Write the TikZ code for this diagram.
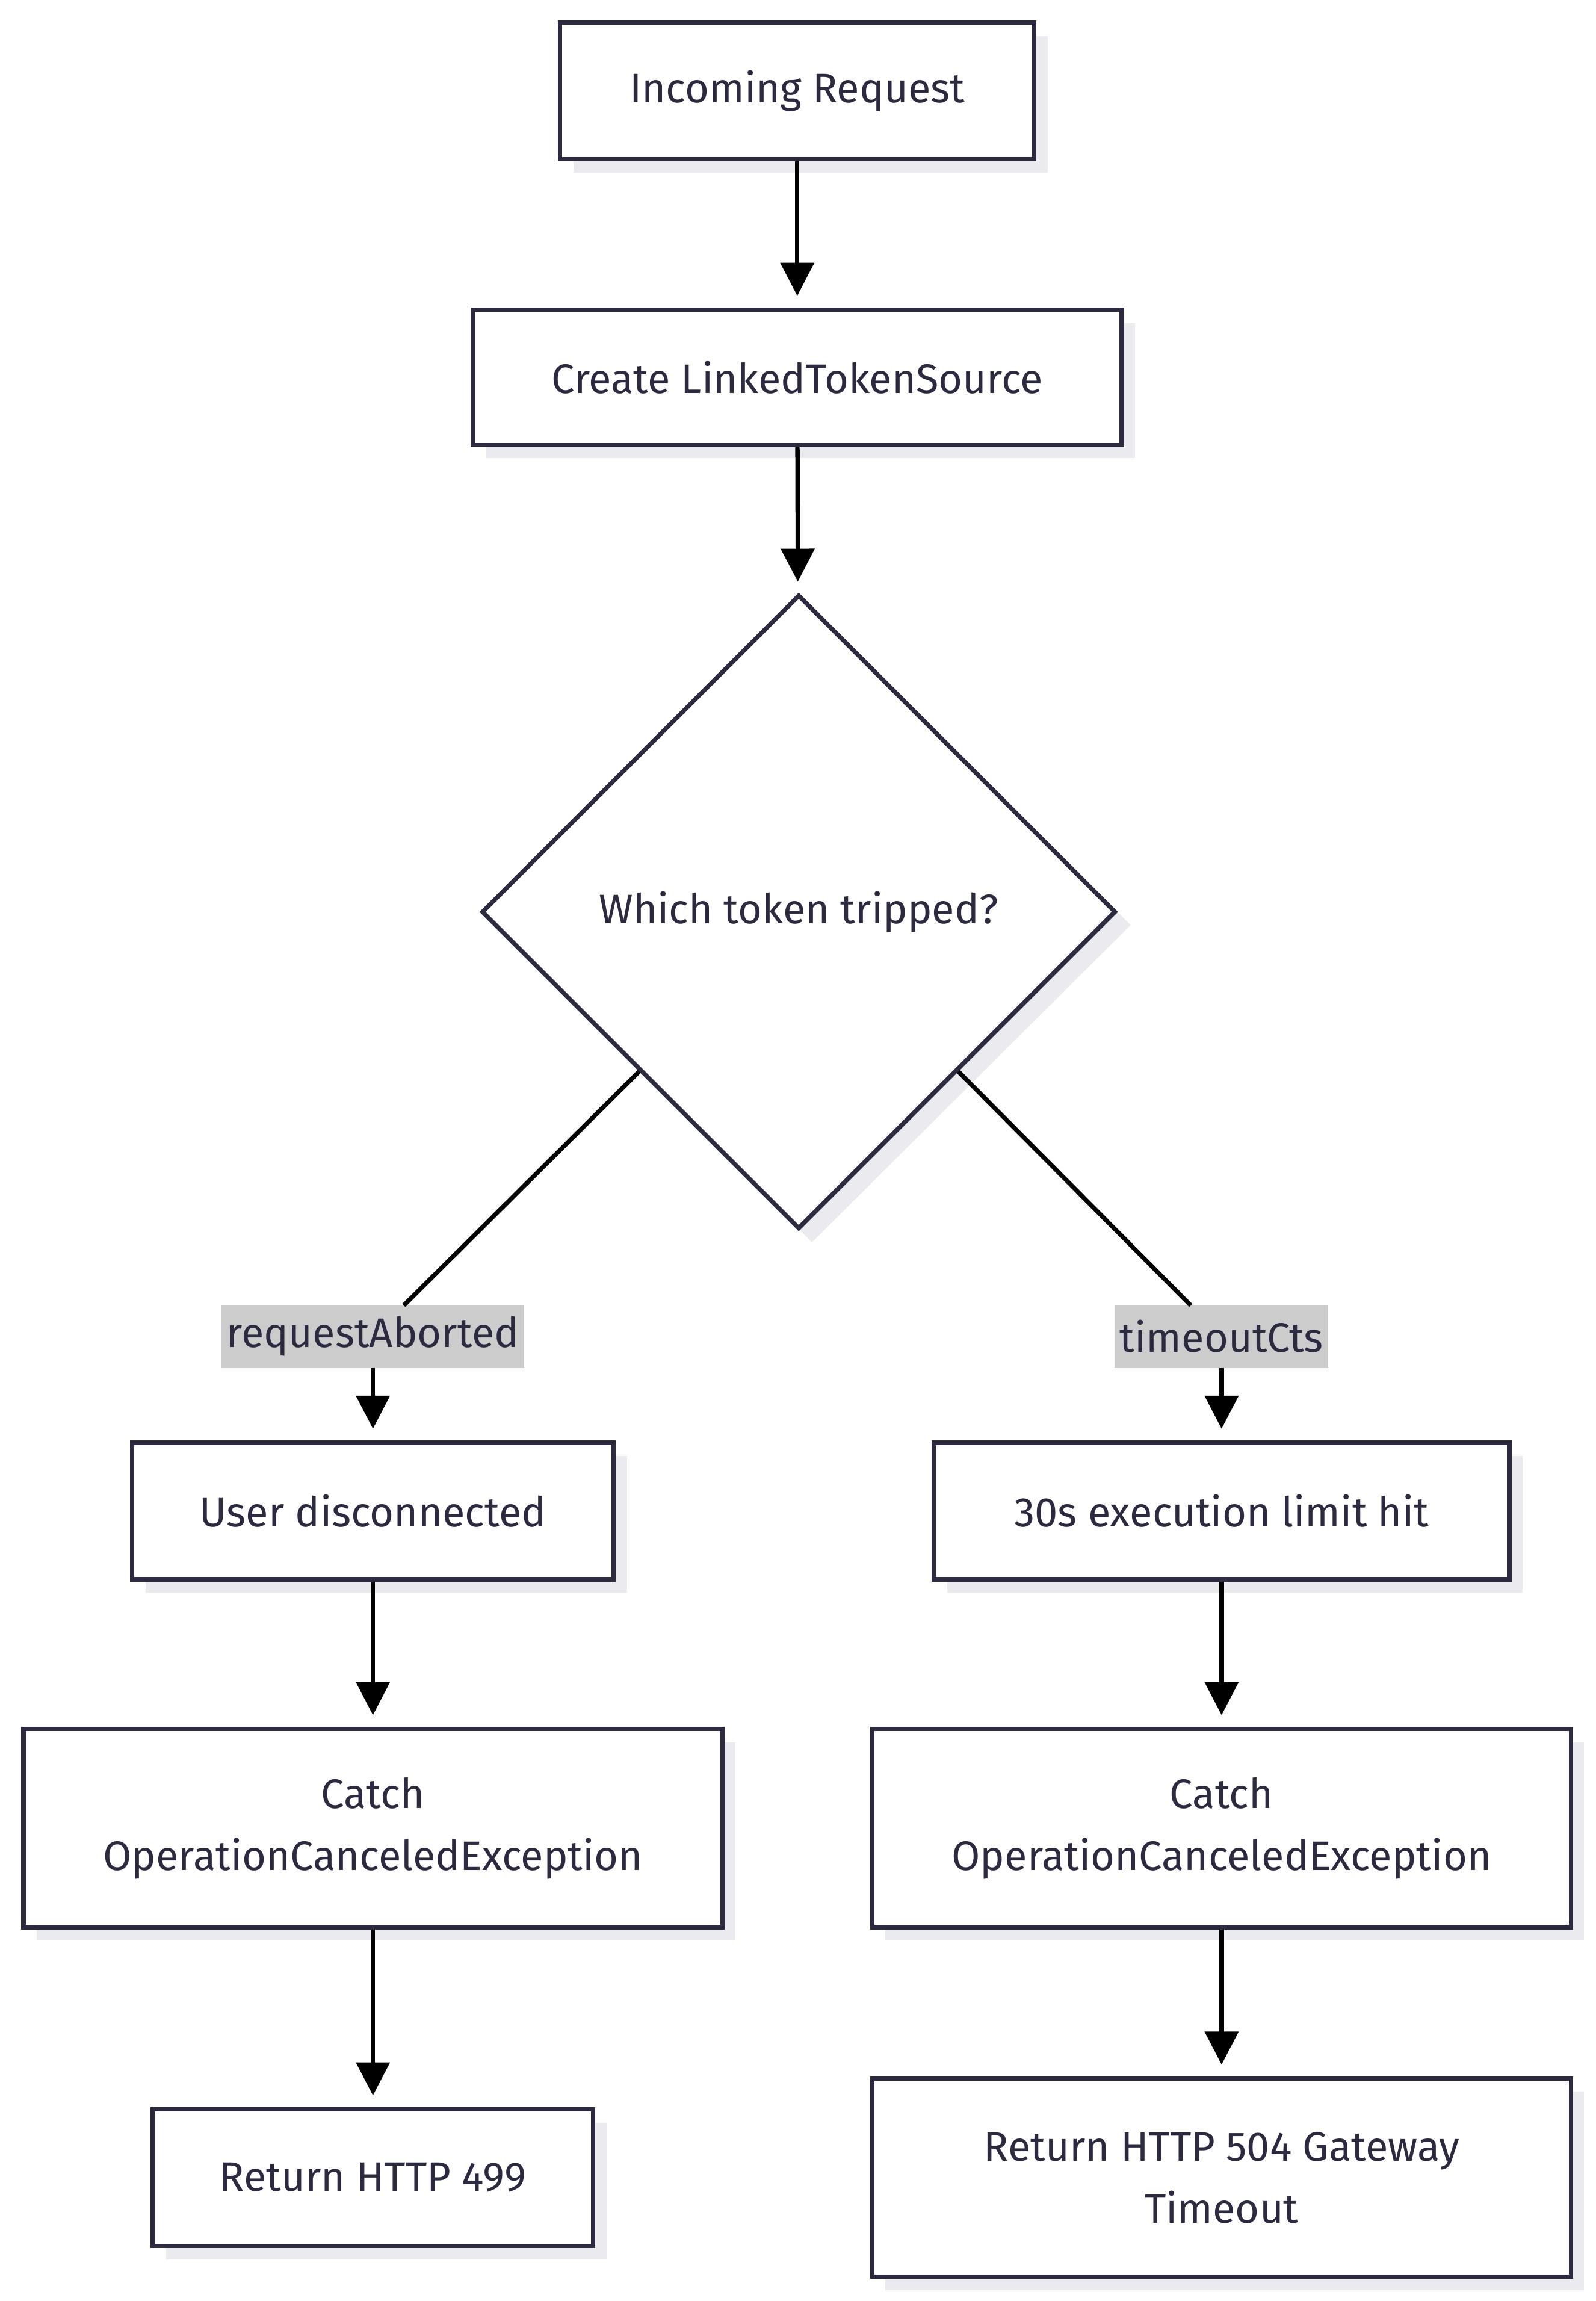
\documentclass[tikz,border=0pt]{standalone}
\usepackage{fontspec}
\setmainfont{Fira Sans}
\usetikzlibrary{shapes.geometric,arrows.meta}
\definecolor{bd}{HTML}{2B2A3F}
\definecolor{sh}{HTML}{EBEBEF}
\begin{document}
\begin{tikzpicture}[x=0.02cm,y=-0.02cm,
  box/.style={draw=bd,line width=1.7pt,fill=white,align=center,font=\fontsize{16}{24}\selectfont,text=bd,inner sep=0pt},
  lab/.style={fill=black!20,font=\fontsize{16}{20}\selectfont,text=bd,inner sep=2pt,minimum height=0.86cm},
  arr/.style={line width=1.7pt,-{Triangle[length=0.45cm,width=0.45cm]},shorten >=0.16cm}]
\useasboundingbox (0,0) rectangle (1087,1567);
\newcommand{\bx}[5]{% name, cx, cy, w, h, text
  \fill[sh] (#2-#4/2+9,#3-#5/2+9) rectangle (#2+#4/2+9,#3+#5/2+9);
  \node[box,minimum width=#4*0.02cm,minimum height=#5*0.02cm] (#1) at (#2,#3)}
\bx{a}{543}{62}{323}{93}{Incoming Request};
\bx{b}{543}{257}{442}{92}{Create LinkedTokenSource};
\fill[sh] (553,414) -- (770,630) -- (553,846) -- (337,630) -- cycle;
\node[draw=bd,line width=1.7pt,fill=white,diamond,minimum width=8.64cm,minimum height=8.64cm,inner sep=0pt,font=\fontsize{16}{24}\selectfont,text=bd] (d) at (544,621) {Which token tripped?};
\node[lab] (la) at (254,910) {requestAborted};
\node[lab] (lb) at (832,910) {timeoutCts};
\bx{c1}{254}{1029}{328}{93}{User disconnected};
\bx{c2}{832}{1029}{392}{93}{30s execution limit hit};
\bx{e1}{254}{1245}{476}{135}{Catch\\OperationCanceledException};
\bx{e2}{832}{1245}{476}{135}{Catch\\OperationCanceledException};
\bx{f1}{254}{1483}{300}{93}{Return HTTP 499};
\bx{f2}{832}{1483}{476}{135}{Return HTTP 504 Gateway\\Timeout};
\draw[arr] (a) -- (b);
\draw[arr] (b) -- (d);
\draw[line width=1.7pt] (d.south west) -- (275,889);
\draw[line width=1.7pt] (d.south east) -- (811,889);
\draw[arr] (la) -- (c1);
\draw[arr] (lb) -- (c2);
\draw[arr] (c1) -- (e1);
\draw[arr] (c2) -- (e2);
\draw[arr] (e1) -- (f1);
\draw[arr] (e2) -- (f2);
\end{tikzpicture}
\end{document}
